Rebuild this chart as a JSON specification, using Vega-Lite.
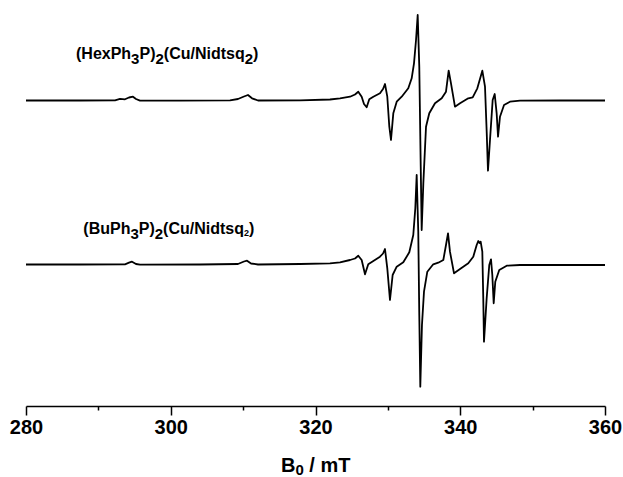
{
  "$schema": "https://vega.github.io/schema/vega-lite/v6.json",
  "width": 579,
  "height": 406,
  "autosize": {"type": "none"},
  "padding": {"left": 26, "top": 0, "right": 18, "bottom": 71},
  "background": "white",
  "config": {"view": {"stroke": null}},
  "datasets": {
    "spectra": [
      {"sample": "Hex", "field": 280.00, "intensity": 305.5},
      {"sample": "Hex", "field": 287.46, "intensity": 305.5},
      {"sample": "Hex", "field": 292.30, "intensity": 305.7},
      {"sample": "Hex", "field": 292.99, "intensity": 307.2},
      {"sample": "Hex", "field": 293.68, "intensity": 306.7},
      {"sample": "Hex", "field": 294.23, "intensity": 308.5},
      {"sample": "Hex", "field": 294.78, "intensity": 309.3},
      {"sample": "Hex", "field": 295.20, "intensity": 307.0},
      {"sample": "Hex", "field": 295.75, "intensity": 305.3},
      {"sample": "Hex", "field": 301.28, "intensity": 305.3},
      {"sample": "Hex", "field": 308.19, "intensity": 305.7},
      {"sample": "Hex", "field": 309.29, "intensity": 307.0},
      {"sample": "Hex", "field": 310.12, "intensity": 309.5},
      {"sample": "Hex", "field": 310.67, "intensity": 311.0},
      {"sample": "Hex", "field": 311.23, "intensity": 307.7},
      {"sample": "Hex", "field": 312.06, "intensity": 305.5},
      {"sample": "Hex", "field": 317.86, "intensity": 305.7},
      {"sample": "Hex", "field": 322.00, "intensity": 306.5},
      {"sample": "Hex", "field": 323.39, "intensity": 307.7},
      {"sample": "Hex", "field": 324.77, "intensity": 309.3},
      {"sample": "Hex", "field": 325.46, "intensity": 311.5},
      {"sample": "Hex", "field": 325.91, "intensity": 314.3},
      {"sample": "Hex", "field": 326.38, "intensity": 309.3},
      {"sample": "Hex", "field": 326.70, "intensity": 302.0},
      {"sample": "Hex", "field": 327.07, "intensity": 298.7},
      {"sample": "Hex", "field": 327.43, "intensity": 306.7},
      {"sample": "Hex", "field": 327.99, "intensity": 309.3},
      {"sample": "Hex", "field": 328.91, "intensity": 312.7},
      {"sample": "Hex", "field": 329.33, "intensity": 317.0},
      {"sample": "Hex", "field": 329.60, "intensity": 322.0},
      {"sample": "Hex", "field": 329.92, "intensity": 309.3},
      {"sample": "Hex", "field": 330.20, "intensity": 279.3},
      {"sample": "Hex", "field": 330.43, "intensity": 266.0},
      {"sample": "Hex", "field": 330.75, "intensity": 292.7},
      {"sample": "Hex", "field": 331.22, "intensity": 304.3},
      {"sample": "Hex", "field": 331.91, "intensity": 309.3},
      {"sample": "Hex", "field": 332.82, "intensity": 317.7},
      {"sample": "Hex", "field": 333.29, "intensity": 327.7},
      {"sample": "Hex", "field": 333.61, "intensity": 342.7},
      {"sample": "Hex", "field": 333.89, "intensity": 366.0},
      {"sample": "Hex", "field": 334.12, "intensity": 391.0},
      {"sample": "Hex", "field": 334.34, "intensity": 339.3},
      {"sample": "Hex", "field": 334.54, "intensity": 239.3},
      {"sample": "Hex", "field": 334.67, "intensity": 176.0},
      {"sample": "Hex", "field": 334.90, "intensity": 222.7},
      {"sample": "Hex", "field": 335.27, "intensity": 279.3},
      {"sample": "Hex", "field": 335.72, "intensity": 292.7},
      {"sample": "Hex", "field": 336.51, "intensity": 302.7},
      {"sample": "Hex", "field": 337.44, "intensity": 307.7},
      {"sample": "Hex", "field": 338.03, "intensity": 314.3},
      {"sample": "Hex", "field": 338.40, "intensity": 335.3},
      {"sample": "Hex", "field": 338.72, "intensity": 322.7},
      {"sample": "Hex", "field": 339.27, "intensity": 299.3},
      {"sample": "Hex", "field": 339.97, "intensity": 302.7},
      {"sample": "Hex", "field": 341.11, "intensity": 307.7},
      {"sample": "Hex", "field": 341.72, "intensity": 308.7},
      {"sample": "Hex", "field": 342.36, "intensity": 317.7},
      {"sample": "Hex", "field": 343.05, "intensity": 335.3},
      {"sample": "Hex", "field": 343.42, "intensity": 319.3},
      {"sample": "Hex", "field": 343.66, "intensity": 272.7},
      {"sample": "Hex", "field": 343.83, "intensity": 235.3},
      {"sample": "Hex", "field": 344.11, "intensity": 266.0},
      {"sample": "Hex", "field": 344.48, "intensity": 306.0},
      {"sample": "Hex", "field": 344.76, "intensity": 312.0},
      {"sample": "Hex", "field": 345.03, "intensity": 292.7},
      {"sample": "Hex", "field": 345.22, "intensity": 269.3},
      {"sample": "Hex", "field": 345.49, "intensity": 289.3},
      {"sample": "Hex", "field": 346.05, "intensity": 301.0},
      {"sample": "Hex", "field": 346.87, "intensity": 304.3},
      {"sample": "Hex", "field": 348.26, "intensity": 305.3},
      {"sample": "Hex", "field": 353.78, "intensity": 305.5},
      {"sample": "Hex", "field": 360.00, "intensity": 305.5},
      {"sample": "Bu", "field": 280.00, "intensity": 141.5},
      {"sample": "Bu", "field": 287.46, "intensity": 141.5},
      {"sample": "Bu", "field": 293.68, "intensity": 141.7},
      {"sample": "Bu", "field": 294.23, "intensity": 143.3},
      {"sample": "Bu", "field": 294.65, "intensity": 144.3},
      {"sample": "Bu", "field": 295.20, "intensity": 142.0},
      {"sample": "Bu", "field": 295.75, "intensity": 141.3},
      {"sample": "Bu", "field": 304.04, "intensity": 141.5},
      {"sample": "Bu", "field": 309.29, "intensity": 142.0},
      {"sample": "Bu", "field": 310.12, "intensity": 144.5},
      {"sample": "Bu", "field": 310.54, "intensity": 145.3},
      {"sample": "Bu", "field": 311.09, "intensity": 142.5},
      {"sample": "Bu", "field": 312.06, "intensity": 141.5},
      {"sample": "Bu", "field": 317.86, "intensity": 142.0},
      {"sample": "Bu", "field": 322.00, "intensity": 142.7},
      {"sample": "Bu", "field": 323.39, "intensity": 143.7},
      {"sample": "Bu", "field": 324.77, "intensity": 146.0},
      {"sample": "Bu", "field": 325.46, "intensity": 147.5},
      {"sample": "Bu", "field": 325.91, "intensity": 150.3},
      {"sample": "Bu", "field": 326.38, "intensity": 146.0},
      {"sample": "Bu", "field": 326.84, "intensity": 131.7},
      {"sample": "Bu", "field": 327.29, "intensity": 141.7},
      {"sample": "Bu", "field": 327.99, "intensity": 145.0},
      {"sample": "Bu", "field": 328.91, "intensity": 149.3},
      {"sample": "Bu", "field": 329.33, "intensity": 152.5},
      {"sample": "Bu", "field": 329.60, "intensity": 157.0},
      {"sample": "Bu", "field": 329.92, "intensity": 137.7},
      {"sample": "Bu", "field": 330.29, "intensity": 106.0},
      {"sample": "Bu", "field": 330.66, "intensity": 131.0},
      {"sample": "Bu", "field": 331.22, "intensity": 139.3},
      {"sample": "Bu", "field": 332.13, "intensity": 143.7},
      {"sample": "Bu", "field": 332.96, "intensity": 153.7},
      {"sample": "Bu", "field": 333.51, "intensity": 171.0},
      {"sample": "Bu", "field": 333.79, "intensity": 197.7},
      {"sample": "Bu", "field": 333.98, "intensity": 231.0},
      {"sample": "Bu", "field": 334.20, "intensity": 174.3},
      {"sample": "Bu", "field": 334.34, "intensity": 91.0},
      {"sample": "Bu", "field": 334.48, "intensity": 19.3},
      {"sample": "Bu", "field": 334.71, "intensity": 81.0},
      {"sample": "Bu", "field": 334.99, "intensity": 114.3},
      {"sample": "Bu", "field": 335.45, "intensity": 134.3},
      {"sample": "Bu", "field": 336.27, "intensity": 141.7},
      {"sample": "Bu", "field": 336.96, "intensity": 143.3},
      {"sample": "Bu", "field": 337.66, "intensity": 146.0},
      {"sample": "Bu", "field": 338.03, "intensity": 161.0},
      {"sample": "Bu", "field": 338.31, "intensity": 172.7},
      {"sample": "Bu", "field": 338.58, "intensity": 154.3},
      {"sample": "Bu", "field": 339.14, "intensity": 132.7},
      {"sample": "Bu", "field": 339.97, "intensity": 137.0},
      {"sample": "Bu", "field": 341.11, "intensity": 142.7},
      {"sample": "Bu", "field": 341.80, "intensity": 149.3},
      {"sample": "Bu", "field": 342.27, "intensity": 161.0},
      {"sample": "Bu", "field": 342.49, "intensity": 165.0},
      {"sample": "Bu", "field": 342.66, "intensity": 163.0},
      {"sample": "Bu", "field": 342.82, "intensity": 164.3},
      {"sample": "Bu", "field": 343.05, "intensity": 154.3},
      {"sample": "Bu", "field": 343.18, "intensity": 107.7},
      {"sample": "Bu", "field": 343.28, "intensity": 64.3},
      {"sample": "Bu", "field": 343.65, "intensity": 107.7},
      {"sample": "Bu", "field": 344.01, "intensity": 141.0},
      {"sample": "Bu", "field": 344.25, "intensity": 146.7},
      {"sample": "Bu", "field": 344.43, "intensity": 131.0},
      {"sample": "Bu", "field": 344.62, "intensity": 102.7},
      {"sample": "Bu", "field": 344.84, "intensity": 124.3},
      {"sample": "Bu", "field": 345.39, "intensity": 136.0},
      {"sample": "Bu", "field": 346.42, "intensity": 140.3},
      {"sample": "Bu", "field": 348.26, "intensity": 141.0},
      {"sample": "Bu", "field": 353.78, "intensity": 141.0},
      {"sample": "Bu", "field": 360.00, "intensity": 141.0}
    ],
    "labels": [
      {"role": "main", "field": 286.908, "intensity": 347.5, "text": "(HexPh"},
      {"role": "sub", "field": 294.524, "intensity": 347.5, "text": "3"},
      {"role": "main", "field": 295.677, "intensity": 347.5, "text": "P)"},
      {"role": "sub", "field": 297.888, "intensity": 347.5, "text": "2"},
      {"role": "main", "field": 299.040, "intensity": 347.5, "text": "(Cu/Nidtsq"},
      {"role": "sub", "field": 310.215, "intensity": 347.5, "text": "2"},
      {"role": "main", "field": 311.367, "intensity": 347.5, "text": ")"},
      {"role": "main", "field": 287.917, "intensity": 172, "text": "(BuPh"},
      {"role": "sub", "field": 294.425, "intensity": 172, "text": "3"},
      {"role": "main", "field": 295.577, "intensity": 172, "text": "P)"},
      {"role": "sub", "field": 297.788, "intensity": 172, "text": "2"},
      {"role": "main", "field": 298.940, "intensity": 172, "text": "(Cu/Nidtsq"},
      {"role": "small", "field": 310.116, "intensity": 172, "text": "2"},
      {"role": "main", "field": 310.806, "intensity": 172, "text": ")"},
      {"role": "title", "field": 315.233, "intensity": -66.3, "text": "B"},
      {"role": "titlesub", "field": 317.228, "intensity": -66.3, "text": "0"},
      {"role": "title", "field": 319.149, "intensity": -66.3, "text": "/ mT"}
    ]
  },
  "layer": [
    {
      "data": {"name": "spectra"},
      "mark": {"type": "line", "color": "black", "strokeWidth": 1.8, "strokeJoin": "round", "clip": false},
      "encoding": {
        "x": {
          "field": "field",
          "type": "quantitative",
          "scale": {"domain": [280, 360], "nice": false, "zero": false},
          "axis": {
            "title": null,
            "values": [280, 290, 300, 310, 320, 330, 340, 350, 360],
            "labelExpr": "datum.value % 20 === 0 ? datum.label : ''",
            "format": "d",
            "grid": false,
            "domainColor": "black",
            "domainWidth": 1.5,
            "tickColor": "black",
            "tickWidth": 1.5,
            "tickSize": {"condition": {"test": "datum.value % 20 === 0", "value": 9}, "value": 4},
            "labelFont": "Liberation Sans",
            "labelFontWeight": "bold",
            "labelFontSize": 20,
            "labelColor": "black",
            "labelPadding": 2,
            "labelFlush": false,
            "labelOverlap": false
          }
        },
        "y": {
          "field": "intensity",
          "type": "quantitative",
          "scale": {"domain": [0, 406], "nice": false, "zero": false},
          "axis": null
        },
        "detail": {"field": "sample"}
      }
    },
    {
      "data": {"name": "labels"},
      "transform": [{"filter": "datum.role === 'main'"}],
      "mark": {"type": "text", "font": "Liberation Sans", "fontWeight": "bold", "fontSize": 16, "baseline": "alphabetic", "align": "left", "color": "black", "clip": false},
      "encoding": {
        "x": {"field": "field", "type": "quantitative"},
        "y": {"field": "intensity", "type": "quantitative"},
        "text": {"field": "text"}
      }
    },
    {
      "data": {"name": "labels"},
      "transform": [{"filter": "datum.role === 'sub'"}],
      "mark": {"type": "text", "font": "Liberation Sans", "fontWeight": "bold", "fontSize": 15, "dy": 5, "baseline": "alphabetic", "align": "left", "color": "black", "clip": false},
      "encoding": {
        "x": {"field": "field", "type": "quantitative"},
        "y": {"field": "intensity", "type": "quantitative"},
        "text": {"field": "text"}
      }
    },
    {
      "data": {"name": "labels"},
      "transform": [{"filter": "datum.role === 'small'"}],
      "mark": {"type": "text", "font": "Liberation Sans", "fontWeight": "bold", "fontSize": 9, "dy": 2, "baseline": "alphabetic", "align": "left", "color": "black", "clip": false},
      "encoding": {
        "x": {"field": "field", "type": "quantitative"},
        "y": {"field": "intensity", "type": "quantitative"},
        "text": {"field": "text"}
      }
    },
    {
      "data": {"name": "labels"},
      "transform": [{"filter": "datum.role === 'title'"}],
      "mark": {"type": "text", "font": "Liberation Sans", "fontWeight": "bold", "fontSize": 20, "baseline": "alphabetic", "align": "left", "color": "black", "clip": false},
      "encoding": {
        "x": {"field": "field", "type": "quantitative"},
        "y": {"field": "intensity", "type": "quantitative"},
        "text": {"field": "text"}
      }
    },
    {
      "data": {"name": "labels"},
      "transform": [{"filter": "datum.role === 'titlesub'"}],
      "mark": {"type": "text", "font": "Liberation Sans", "fontWeight": "bold", "fontSize": 15, "dy": 3, "baseline": "alphabetic", "align": "left", "color": "black", "clip": false},
      "encoding": {
        "x": {"field": "field", "type": "quantitative"},
        "y": {"field": "intensity", "type": "quantitative"},
        "text": {"field": "text"}
      }
    }
  ]
}
